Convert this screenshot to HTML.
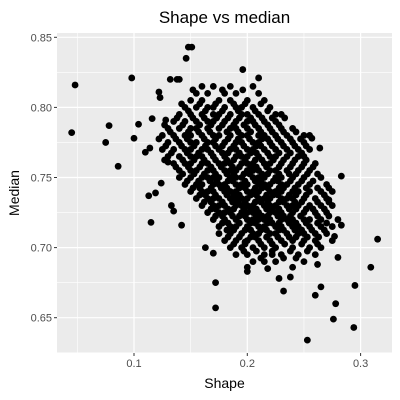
<!DOCTYPE html>
<html><head><meta charset="utf-8"><style>
body{margin:0;background:#fff;}
svg{display:block;font-family:"Liberation Sans",sans-serif;}
</style></head><body>
<svg id="c" width="400" height="400"></svg>
<script>
const xTicks=[0.1,0.2,0.3];
const yTicks=[0.65,0.70,0.75,0.80,0.85];
const yTickLabels=["0.65","0.70","0.75","0.80","0.85"];
const xMinor=[0.05,0.15,0.25];
const yMinor=[0.675,0.725,0.775,0.825];
const bandMedian=[0.815,0.81,0.805,0.80,0.795,0.79,0.785,0.78,0.775,0.77,0.765,0.76,0.755,0.75,0.745,0.74,0.735,0.73,0.725,0.72,0.715,0.71,0.705,0.70,0.695,0.69];
const bandShapes=[
[0.16,0.17,0.185,0.205],
[0.155,0.165,0.18,0.19,0.21],
[0.15,0.16,0.175,0.185,0.2,0.215],
[0.145,0.155,0.165,0.17,0.18,0.19,0.195,0.205,0.22],
[0.14,0.15,0.16,0.17,0.175,0.185,0.195,0.2,0.21,0.225,0.23],
[0.135,0.145,0.155,0.165,0.17,0.18,0.19,0.2,0.205,0.215,0.225],
[0.13,0.14,0.15,0.155,0.165,0.175,0.185,0.19,0.2,0.21,0.22,0.23,0.24],
[0.125,0.135,0.145,0.15,0.16,0.17,0.175,0.185,0.195,0.2,0.21,0.215,0.225,0.235,0.25,0.255],
[0.13,0.14,0.15,0.155,0.165,0.17,0.18,0.19,0.195,0.205,0.21,0.22,0.23,0.24,0.25],
[0.125,0.135,0.145,0.15,0.16,0.165,0.175,0.185,0.19,0.2,0.205,0.215,0.225,0.235,0.245,0.255],
[0.13,0.14,0.15,0.155,0.16,0.17,0.18,0.19,0.195,0.2,0.21,0.22,0.225,0.235,0.245,0.25],
[0.135,0.145,0.15,0.16,0.165,0.175,0.18,0.185,0.195,0.2,0.205,0.215,0.22,0.23,0.24,0.25,0.26],
[0.14,0.15,0.155,0.165,0.17,0.18,0.185,0.19,0.2,0.205,0.21,0.22,0.225,0.235,0.245,0.255],
[0.14,0.15,0.16,0.165,0.17,0.175,0.185,0.19,0.195,0.205,0.21,0.215,0.225,0.23,0.24,0.25,0.265],
[0.145,0.155,0.16,0.17,0.175,0.18,0.19,0.195,0.2,0.21,0.215,0.22,0.23,0.235,0.245,0.255,0.27],
[0.15,0.16,0.165,0.17,0.18,0.185,0.19,0.2,0.205,0.21,0.22,0.225,0.23,0.24,0.245,0.255,0.265,0.275],
[0.155,0.165,0.17,0.175,0.185,0.19,0.195,0.2,0.21,0.215,0.22,0.23,0.235,0.24,0.25,0.26,0.27],
[0.16,0.17,0.175,0.18,0.19,0.195,0.2,0.205,0.215,0.22,0.225,0.235,0.24,0.245,0.255,0.265,0.275],
[0.165,0.175,0.18,0.185,0.195,0.2,0.205,0.21,0.22,0.225,0.23,0.24,0.25,0.26,0.27],
[0.17,0.18,0.19,0.2,0.205,0.21,0.215,0.22,0.23,0.235,0.24,0.25,0.255,0.265,0.28],
[0.175,0.185,0.19,0.2,0.21,0.215,0.225,0.23,0.24,0.245,0.255,0.265,0.275],
[0.175,0.185,0.195,0.205,0.21,0.22,0.225,0.235,0.245,0.25,0.26,0.27],
[0.18,0.19,0.2,0.21,0.22,0.23,0.24,0.25,0.26,0.275],
[0.185,0.195,0.205,0.215,0.225,0.24,0.255,0.265],
[0.19,0.2,0.215,0.23,0.245,0.26],
[0.205,0.225,0.25]
];
const bandMedian2=[0.8125,0.8025,0.7975,0.7925,0.7875,0.7825,0.7775,0.7725,0.7675,0.7625,0.7575,0.7525,0.7475,0.7425,0.7375,0.7325,0.7275,0.7225,0.7175,0.7125,0.7075,0.7025,0.6975,0.6925];
const bandShapes2=[
[0.152,0.178,0.196],
[0.142,0.158,0.172,0.188,0.198,0.212],
[0.148,0.163,0.178,0.192,0.207,0.218],
[0.138,0.152,0.162,0.173,0.183,0.193,0.203,0.213,0.222,0.233],
[0.127,0.143,0.158,0.168,0.178,0.188,0.197,0.207,0.218,0.228],
[0.132,0.148,0.157,0.167,0.182,0.192,0.203,0.212,0.222,0.232,0.243],
[0.122,0.137,0.147,0.162,0.172,0.183,0.192,0.202,0.213,0.218,0.227,0.238,0.247],
[0.128,0.142,0.153,0.163,0.172,0.178,0.188,0.197,0.208,0.212,0.222,0.232,0.242,0.252],
[0.133,0.147,0.157,0.168,0.178,0.183,0.193,0.203,0.208,0.218,0.228,0.238,0.248],
[0.127,0.143,0.153,0.162,0.172,0.182,0.188,0.198,0.207,0.213,0.223,0.232,0.242,0.252],
[0.137,0.148,0.158,0.168,0.177,0.187,0.193,0.203,0.208,0.217,0.228,0.238,0.248,0.258],
[0.143,0.153,0.162,0.172,0.182,0.188,0.197,0.202,0.213,0.218,0.228,0.237,0.243,0.253,0.262],
[0.147,0.157,0.167,0.173,0.183,0.187,0.198,0.207,0.212,0.223,0.227,0.238,0.248,0.258],
[0.152,0.158,0.168,0.177,0.182,0.193,0.198,0.207,0.213,0.218,0.228,0.232,0.242,0.252,0.262,0.272],
[0.158,0.163,0.172,0.182,0.188,0.193,0.203,0.208,0.217,0.223,0.227,0.237,0.243,0.252,0.268],
[0.162,0.168,0.178,0.187,0.192,0.198,0.207,0.212,0.218,0.228,0.232,0.242,0.248,0.262,0.272],
[0.168,0.172,0.183,0.188,0.197,0.203,0.208,0.217,0.222,0.228,0.237,0.243,0.252,0.258,0.268],
[0.172,0.178,0.187,0.193,0.198,0.208,0.213,0.218,0.227,0.232,0.238,0.247,0.262,0.272],
[0.178,0.183,0.193,0.203,0.207,0.218,0.222,0.228,0.237,0.243,0.252,0.262,0.27],
[0.182,0.188,0.198,0.203,0.212,0.217,0.228,0.232,0.242,0.248,0.257,0.268],
[0.183,0.193,0.203,0.207,0.217,0.227,0.237,0.243,0.253,0.263],
[0.188,0.198,0.212,0.222,0.233,0.248,0.262],
[0.197,0.208,0.222,0.238,0.253],
[0.212,0.232,0.243]
];
const outlierShape=[0.045,0.048,0.075,0.078,0.086,0.098,0.1,0.104,0.11,0.113,0.114,0.115,0.116,0.119,0.122,0.123,0.124,0.128,0.13,0.132,0.138,0.14,0.142,0.148,0.151,0.146,0.133,0.135,0.198,0.21,0.196,0.315,0.309,0.295,0.294,0.278,0.276,0.253,0.26,0.265,0.262,0.28,0.283,0.277,0.272,0.283,0.264,0.257,0.172,0.172,0.17,0.163,0.2,0.2,0.218,0.228,0.232,0.238,0.24,0.215,0.222];
const outlierMedian=[0.782,0.816,0.775,0.787,0.758,0.821,0.778,0.788,0.768,0.737,0.771,0.718,0.792,0.739,0.811,0.807,0.746,0.791,0.761,0.82,0.82,0.82,0.716,0.843,0.843,0.835,0.73,0.726,0.704,0.821,0.827,0.706,0.686,0.673,0.643,0.66,0.649,0.634,0.666,0.672,0.688,0.693,0.716,0.708,0.734,0.751,0.771,0.778,0.657,0.675,0.696,0.70,0.683,0.686,0.685,0.678,0.669,0.679,0.686,0.69,0.695];

const NS="http://www.w3.org/2000/svg";
const svg=document.getElementById('c');
const L=57,R=392,T=33,B=353;
const xs=v=>134+(v-0.1)*1133;
const ys=v=>37.3+(0.85-v)*1402;
function mk(tag,attrs,parent){const e=document.createElementNS(NS,tag);for(const k in attrs)e.setAttribute(k,attrs[k]);(parent||svg).appendChild(e);return e;}

const panel=mk('rect',{x:L,y:T,width:R-L,height:B-T,fill:'#ebebeb'});


const grid=mk('g',{});


xMinor.forEach(v=>mk('line',{x1:xs(v),x2:xs(v),y1:T,y2:B,stroke:'#fff','stroke-width':0.6},grid));
yMinor.forEach(v=>mk('line',{x1:L,x2:R,y1:ys(v),y2:ys(v),stroke:'#fff','stroke-width':0.6},grid));
mk('line',{x1:L,x2:R,y1:ys(0.625),y2:ys(0.625),stroke:'#fff','stroke-width':0.6},grid);
xTicks.forEach(v=>mk('line',{x1:xs(v),x2:xs(v),y1:T,y2:B,stroke:'#fff','stroke-width':1.2},grid));
yTicks.forEach(v=>mk('line',{x1:L,x2:R,y1:ys(v),y2:ys(v),stroke:'#fff','stroke-width':1.2},grid));

const pts=mk('g',{fill:'#000'});


function dot(s,m){
  const c=mk('circle',{cx:xs(s),cy:ys(m),r:3.4},pts);
  
  
}
bandMedian.forEach((m,i)=>bandShapes[i].forEach(s=>dot(s,m)));
bandMedian2.forEach((m,i)=>bandShapes2[i].forEach(s=>dot(s,m)));
outlierShape.forEach((s,i)=>dot(s,outlierMedian[i]));

const ax=mk('g',{});


xTicks.forEach(v=>{
  mk('line',{x1:xs(v),x2:xs(v),y1:B,y2:B+3,stroke:'#333','stroke-width':1},ax);
  const t=mk('text',{x:xs(v),y:B+14,'text-anchor':'middle','font-size':'11',fill:'#4d4d4d'},ax);
  t.textContent=String(v);
  
  
});
yTicks.forEach((v,i)=>{
  mk('line',{x1:L-3,x2:L,y1:ys(v),y2:ys(v),stroke:'#333','stroke-width':1},ax);
  const t=mk('text',{x:L-5,y:ys(v)+4,'text-anchor':'end','font-size':'11',fill:'#4d4d4d'},ax);
  t.textContent=yTickLabels[i];
  
  
});
const xt=mk('text',{x:(L+R)/2,y:388,'text-anchor':'middle','font-size':'14',fill:'#000'});
xt.textContent='Shape';


const yt=mk('text',{x:0,y:0,'text-anchor':'middle','font-size':'14',fill:'#000',transform:`translate(19,${(T+B)/2}) rotate(-90)`});
yt.textContent='Median';


const tt=mk('text',{x:(L+R)/2,y:23,'text-anchor':'middle','font-size':'17',fill:'#000'});
tt.textContent='Shape vs median';


</script>
</body></html>
